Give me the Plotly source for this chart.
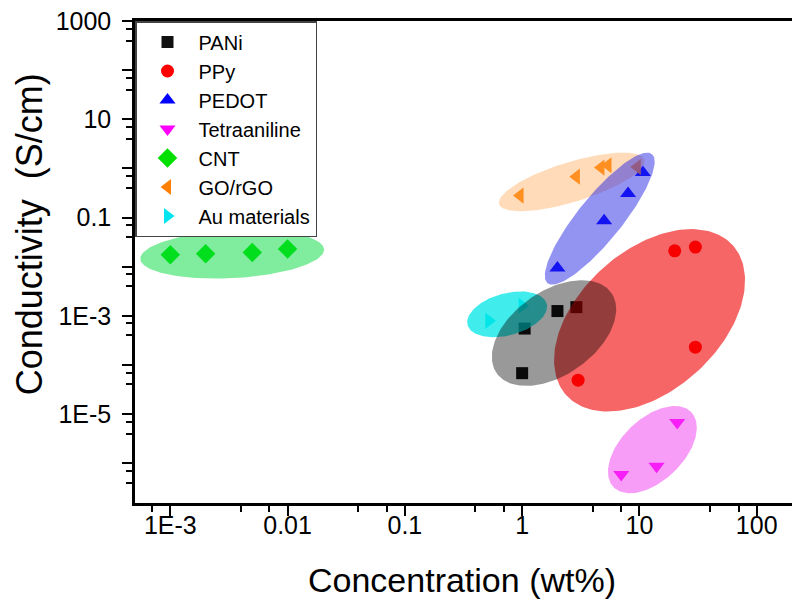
import numpy as np
import plotly.graph_objects as go

# ---------------- data ----------------
pani_x = [1.0, 1.05, 2.0, 2.9]
pani_y = [6.8e-5, 5.5e-4, 1.25e-3, 1.5e-3]

ppy_x = [3.0, 20.0, 30.0, 30.0]
ppy_y = [4.9e-5, 0.021, 0.025, 2.3e-4]

pedot_x = [2.0, 5.0, 8.0, 10.7]
pedot_y = [0.0094, 0.086, 0.31, 0.83]

tetra_x = [7.0, 14.0, 21.0]
tetra_y = [5.9e-7, 8.7e-7, 6.7e-6]

cnt_x = [1e-3, 2e-3, 5e-3, 0.01]
cnt_y = [0.0175, 0.0183, 0.0195, 0.023]

go_x = [0.96, 2.9, 4.7, 5.4, 9.6]
go_y = [0.28, 0.68, 1.04, 1.16, 1.07]

au_x = [0.52, 1.0]
au_y = [7.9e-4, 1.6e-3]

x_tickvals = [1e-3, 0.01, 0.1, 1, 10, 100]
x_ticktext = ["1E-3", "0.01", "0.1", "1", "10", "100"]
y_tickvals = [1e-6, 1e-5, 1e-4, 1e-3, 1e-2, 0.1, 1, 10, 100, 1000]
y_ticktext = ["", "1E-5", "", "1E-3", "", "0.1", "", "10", "", "1000"]

# highlight ellipses: centre (data units), semi-axes (px), angle (deg), colour
ell_names = ["GO/rGO", "PEDOT", "PPy", "Au materials", "PANi", "Tetraaniline", "CNT"]
ell_cx = [2.65, 4.59, 12.2, 0.745, 1.87, 12.9, 3.37e-3]
ell_cy = [0.53, 0.095, 8.1e-4, 1.07e-3, 4.45e-4, 1.89e-6, 0.018]
ell_a = [76, 83, 112, 41, 70, 54, 92]
ell_b = [20, 22, 70, 21, 42, 31, 24]
ell_ang = [17, 51, 42, 15, 35, 44, 3]
ell_col = ["rgba(255,165,80,0.40)", "rgba(40,40,230,0.50)", "rgba(240,0,0,0.60)",
           "rgba(0,230,230,0.75)", "rgba(0,0,0,0.40)", "rgba(240,60,240,0.50)",
           "rgba(0,220,60,0.50)"]

# ---------------- layout constants ----------------
W, H = 800, 612
ML, MR, MT, MB = 127, 16, 13, 117
X_RANGE = [np.log10(5e-4), np.log10(200)]
Y_RANGE = [-6.81, 3.0]
px_x = (W - ML - MR) / (X_RANGE[1] - X_RANGE[0])
px_y = (H - MT - MB) / (Y_RANGE[1] - Y_RANGE[0])

FONT = "Liberation Sans, Arial, sans-serif"

fig = go.Figure()

series = [
    ("PANi", pani_x, pani_y, "square", "#111111", 12),
    ("PPy", ppy_x, ppy_y, "circle", "#ff0000", 13),
    ("PEDOT", pedot_x, pedot_y, "triangle-up", "#0000ff", 14),
    ("Tetraaniline", tetra_x, tetra_y, "triangle-down", "#ff00ff", 14),
    ("CNT", cnt_x, cnt_y, "diamond", "#00e000", 15),
    ("GO/rGO", go_x, go_y, "triangle-left", "#ff8000", 14),
    ("Au materials", au_x, au_y, "triangle-right", "#00e5ee", 14),
]
for name, xs, ys, sym, col, sz in series:
    fig.add_trace(go.Scatter(x=xs, y=ys, mode="markers", name=name,
                             marker=dict(symbol=sym, color=col, size=sz, line=dict(width=0))))

t = np.linspace(0, 2 * np.pi, 181)
for name, cx, cy, a, b, ang, col in zip(ell_names, ell_cx, ell_cy, ell_a, ell_b, ell_ang, ell_col):
    th = np.radians(ang)
    dx = a * np.cos(t) * np.cos(th) - b * np.sin(t) * np.sin(th)
    dy = a * np.cos(t) * np.sin(th) + b * np.sin(t) * np.cos(th)
    ex = 10 ** (np.log10(cx) + dx / px_x)
    ey = 10 ** (np.log10(cy) + dy / px_y)
    fig.add_trace(go.Scatter(x=ex, y=ey, mode="lines", fill="toself", fillcolor=col,
                             line=dict(width=0), showlegend=False, hoverinfo="skip"))

minor_x = [m * 10.0 ** k for k in range(-4, 3) for m in (4, 7)]
minor_y = [m * 10.0 ** k for k in range(-7, 3) for m in (4, 7)]

axis_common = dict(showline=True, linecolor="black", linewidth=2.5, mirror=True,
                   ticks="outside", ticklen=10, tickwidth=2, tickcolor="black",
                   showgrid=False, zeroline=False, ticklabeloverflow="allow",
                   tickfont=dict(family=FONT, size=25, color="black"))

fig.update_xaxes(type="log", range=X_RANGE, tickmode="array",
                 tickvals=x_tickvals, ticktext=x_ticktext, ticklabelstandoff=-12,
                 minor=dict(tickvals=minor_x, ticks="outside", ticklen=6, tickwidth=2,
                            tickcolor="black", showgrid=False),
                 **axis_common)
fig.update_yaxes(type="log", range=Y_RANGE, tickmode="array",
                 tickvals=y_tickvals, ticktext=y_ticktext, ticklabelstandoff=6,
                 minor=dict(tickvals=minor_y, ticks="outside", ticklen=6, tickwidth=2,
                            tickcolor="black", showgrid=False),
                 **axis_common)

fig.update_layout(
    width=W, height=H,
    margin=dict(l=ML, r=MR, t=MT, b=MB, autoexpand=False),
    plot_bgcolor="white", paper_bgcolor="white",
    font=dict(family=FONT, color="black"),
    legend=dict(x=0, y=1, xanchor="left", yanchor="top",
                bgcolor="white", bordercolor="#444444", borderwidth=1.5,
                font=dict(family=FONT, size=20, color="black"),
                itemwidth=52, tracegroupgap=0),
    annotations=[
        dict(text="Concentration (wt%)", xref="paper", yref="paper",
             x=0.498, y=-0.16, xanchor="center", yanchor="middle",
             showarrow=False, font=dict(family=FONT, size=34, color="black")),
        dict(text="Conductivity  (S/cm)", xref="paper", yref="paper",
             x=-0.161, y=0.558, xanchor="center", yanchor="middle", textangle=-90,
             showarrow=False, font=dict(family=FONT, size=36, color="black")),
    ],
)

fig.write_html("out.html")
